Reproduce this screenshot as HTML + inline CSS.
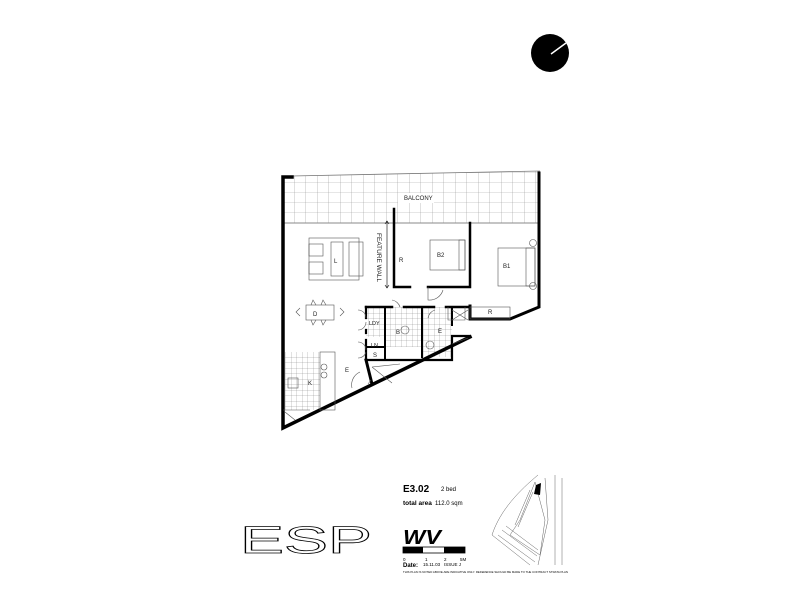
<!DOCTYPE html>
<html><head><meta charset="utf-8"><style>
html,body{margin:0;padding:0;background:#fff;}
svg{display:block;font-family:"Liberation Sans",sans-serif;}
</style></head><body>
<svg width="800" height="600" viewBox="0 0 800 600" xmlns="http://www.w3.org/2000/svg">
<defs>
<pattern id="g" x="283" y="173" width="11.5" height="10" patternUnits="userSpaceOnUse"><path d="M11.5 0V10H0" fill="none" stroke="#999" stroke-width="0.6"/></pattern>
<pattern id="t" width="5.5" height="5.5" patternUnits="userSpaceOnUse"><path d="M5.5 0V5.5H0" fill="none" stroke="#888" stroke-width="0.5"/></pattern>
</defs>
<circle cx="550" cy="53" r="19" fill="#000"/>
<line x1="551" y1="54" x2="566" y2="43" stroke="#fff" stroke-width="1.5"/>

<polygon points="292,176 540,171 540,223 283,223 283,177" fill="url(#g)" stroke="none"/>
<line x1="292" y1="176" x2="540" y2="171" stroke="#777" stroke-width="0.8"/>
<line x1="283" y1="223" x2="539" y2="223" stroke="#888" stroke-width="1"/>
<rect x="398" y="193" width="36" height="10" fill="#fff"/>
<text x="404" y="200" font-size="6" fill="#222">BALCONY</text>

<rect x="386" y="307" width="35" height="40" fill="url(#t)"/>
<rect x="422" y="307" width="30" height="50" fill="url(#t)"/>
<rect x="366" y="307" width="19" height="30" fill="url(#t)"/>
<rect x="285" y="352" width="35" height="58" fill="url(#t)"/>

<g fill="none" stroke="#000" stroke-linecap="square">
<path d="M292 177 H283 V428 L470 337" stroke-width="3.5"/>
<path d="M539 173 V307 L510 319 H470 V306" stroke-width="3"/>
<path d="M394 209 V287 H410 M428 287 H470 V223" stroke-width="2.5"/>
<path d="M366 307 H392 M404 307 H434 M446 307 H470" stroke-width="2.5"/>
<path d="M366 307 V318 M366 330 V333 M366 340 V360 H452 V336 H470" stroke-width="2.2"/>
<path d="M385 307 V360 M422 307 V357 M452 307 V325 M366 347 H385" stroke-width="2"/>
<path d="M366 360 L372 384" stroke-width="3"/>
</g>
<g fill="none" stroke="#555" stroke-width="0.6">
<rect x="309" y="238" width="50" height="42"/>
<rect x="309" y="244" width="14" height="12"/><rect x="309" y="262" width="14" height="12"/>
<rect x="331" y="242" width="12" height="34"/>
<rect x="349" y="242" width="14" height="34"/>
<rect x="306" y="305" width="28" height="15"/>
<path d="M300 308 l-4 4 l4 4 M340 308 l4 4 l-4 4 M311 305 l2 -5 l3 5 M321 305 l2 -5 l3 5 M311 320 l2 5 l3 -5 M321 320 l2 5 l3 -5"/>
<rect x="430" y="240" width="35" height="30"/><rect x="459" y="240" width="6" height="30"/>
<rect x="498" y="248" width="37" height="38"/><rect x="526" y="248" width="9" height="38"/>
<circle cx="533" cy="243" r="3.5"/><circle cx="533" cy="286" r="3.5"/>
<rect x="470" y="307" width="40" height="12"/>
<path d="M428 287 V300 A14 14 0 0 0 443 290"/>
<path d="M448 307 V320 H465 V307 M452 310 L468 320 M468 310 L452 320"/>
<path d="M358 310 A8 8 0 0 1 366 318 M358 330 A8 8 0 0 0 366 322"/>
<path d="M358 342 A8 8 0 0 1 366 350 M358 358 A8 8 0 0 0 366 352"/>
<path d="M352 388 A14 14 0 0 1 360 372 M371 380 L368 384"/>
<path d="M372 367 L400 364 M372 367 L392 383"/>
<path d="M392 300 A10 10 0 0 1 400 307"/>
<path d="M435 310 A10 10 0 0 0 428 318"/>
<rect x="320" y="352" width="15" height="58"/>
<circle cx="324" cy="367" r="3"/><circle cx="324" cy="375" r="3"/>
<path d="M283 410 H310 M285 412 L295 420"/>
<rect x="288" y="378" width="10" height="10"/>
<circle cx="405" cy="330" r="4"/><circle cx="430" cy="345" r="4"/>
<path d="M452 344 L468 338"/>
</g>
<g font-size="6" fill="#222">
<text x="334" y="263">L</text>
<text x="399" y="262">R</text>
<text x="437" y="257">B2</text>
<text x="503" y="268">B1</text>
<text x="313" y="316">D</text>
<text x="369" y="325" font-size="5.5">LDY</text>
<text x="396" y="334">B</text>
<text x="438" y="333">E</text>
<text x="488" y="314">R</text>
<text x="371" y="347" font-size="5.5">LN</text>
<text x="373" y="357">S</text>
<text x="345" y="372">E</text>
<text x="308" y="385">K</text>
<text transform="translate(377,233) rotate(90)" font-size="6.5">FEATURE WALL</text>
</g>
<path d="M387 221 V288 M385 224 L387 221 L389 224 M385 285 L387 288 L389 285" stroke="#000" stroke-width="0.6" fill="none"/>

<text x="240" y="553" font-size="38" textLength="132" lengthAdjust="spacingAndGlyphs" fill="none" stroke="#000" stroke-width="0.8">ESP</text>

<text x="403" y="492" font-size="10" font-weight="bold">E3.02</text>
<text x="441" y="491" font-size="6">2 bed</text>
<text x="403" y="505" font-size="6.5" font-weight="bold">total area</text>
<text x="435" y="505" font-size="6">112.0 sqm</text>
<text x="403" y="544" font-size="20" font-weight="bold" font-style="italic" textLength="38" lengthAdjust="spacingAndGlyphs">WV</text>
<rect x="403" y="547" width="62" height="6" fill="none" stroke="#000" stroke-width="0.8"/>
<rect x="403" y="547" width="20" height="6" fill="#000"/>
<rect x="444" y="547" width="21" height="6" fill="#000"/>
<text x="403" y="561" font-size="4.5">0</text><text x="425" y="561" font-size="4.5">1</text><text x="444" y="561" font-size="4.5">2</text><text x="460" y="561" font-size="4.5">5M</text>
<text x="403" y="567" font-size="6" font-weight="bold">Date:</text>
<text x="423" y="566" font-size="4.5">15.11.03</text>
<text x="444" y="566" font-size="4.5">ISSUE J</text>
<text x="403" y="573" font-size="3" textLength="165" lengthAdjust="spacingAndGlyphs">THIS PLAN IS NOTED ABOVE ARE INDICATIVE ONLY. REFERENCE SHOULD BE MADE TO THE CONTRACT STRATA PLAN</text>

<g fill="none" stroke="#666" stroke-width="0.5">
<path d="M538 475 C520 490 500 510 492 535 L530 565"/>
<path d="M545 478 L548 520 L538 565 M555 475 V565 M562 478 V565"/>
<path d="M535 482 L520 520 L510 535 L540 555 L545 520 Z"/>
<path d="M498 535 L535 562 M502 530 L537 556 M506 526 L538 550"/>
<path d="M530 490 L515 525 M533 492 L518 527"/>
</g>
<polygon points="536,485 541,483 540,495 534,494" fill="#000"/>
</svg>
</body></html>
